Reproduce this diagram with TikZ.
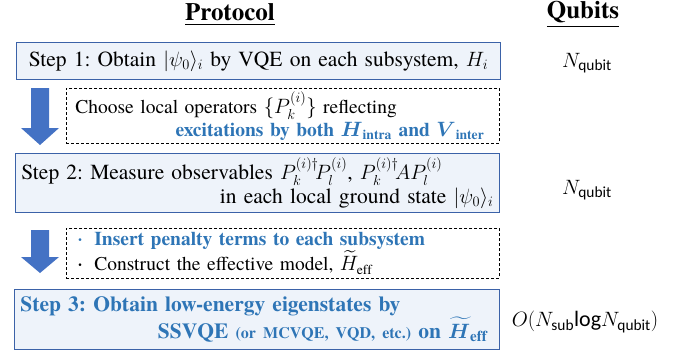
\documentclass[tikz,border=0pt]{standalone}
\usepackage{amsmath}
\usepackage{fontspec}
\setmainfont{TeX Gyre Termes}
\setsansfont{Carlito}
\usetikzlibrary{positioning}
\definecolor{stepfill}{HTML}{EEF3FA}
\definecolor{stepline}{HTML}{3B62A8}
\definecolor{arrowblue}{HTML}{4472C4}
\definecolor{hiblue}{HTML}{2E75B6}
\newcommand{\bodysize}{\frenchspacing\fontsize{21.5}{24}\selectfont}
\newcommand{\notesize}{\frenchspacing\fontsize{19.5}{23}\selectfont}
\newcommand{\dotitem}{\makebox[19pt][l]{\hspace{3pt}\raisebox{0.12em}{\fontsize{10}{10}\selectfont\textbullet}}}
\tikzset{
  stepbox/.style ={draw=stepline,line width=0.9pt,fill=stepfill,anchor=north west,
                   inner xsep=6pt,inner ysep=0pt,align=left,font=\bodysize},
  notebox/.style ={draw=black,dashed,dash pattern=on 3pt off 2pt,line width=0.7pt,
                   anchor=north west,inner xsep=9pt,inner ysep=0pt,align=left,font=\notesize},
  head/.style    ={font=\fontsize{25}{30}\selectfont\bfseries},
  qubits/.style  ={font=\fontsize{22}{24}\selectfont},
  blockarrow/.style={fill=arrowblue,draw=none}
}

\begin{document}
\begin{tikzpicture}[x=1pt,y=-1pt]
  \useasboundingbox (0,0) rectangle (697,354);
  % column headings
  \node[head] (hproto) at (230,15) {\underline{Protocol}};
  \node[head] (hqubit) at (583,15) {\underline{Qubits}};
  % protocol steps
  \node[stepbox,text width=472pt,minimum height=37pt,align=center] (step1) at (16,42)
    {Step 1: Obtain $|\psi_0\rangle_i$ by VQE on each subsystem, $H_i$};
  \node[notebox,text width=415pt,minimum height=55pt] (note1) at (66,88)
    {Choose local operators $\{P_k^{(i)}\}$ reflecting\\
     \hfill\color{hiblue}\bfseries excitations by both $\boldsymbol{H}_{\mathbf{intra}}$
     and $\boldsymbol{V}_{\mathbf{inter}}$\hspace*{6pt}};
  \node[stepbox,text width=472pt,minimum height=59pt] (step2) at (15,153)
    {Step 2: Measure observables $P_k^{(i)\dagger}\!P_l^{(i)}$,
     $P_k^{(i)\dagger}\!AP_l^{(i)}$\\
     \hfill in each local ground state $|\psi_0\rangle_i$\hspace*{-4pt}};
  \node[notebox,text width=415pt,minimum height=50pt] (note2) at (66,228)
    {{\color{hiblue}\bfseries\dotitem Insert penalty terms to each subsystem}\\
     \dotitem Construct the effective model, $\widetilde{H}_{\mathrm{eff}}$};
  \node[stepbox,text width=473pt,minimum height=60pt,text=hiblue,
        font=\bodysize\bfseries] (step3) at (14,289)
    {Step 3: Obtain low-energy eigenstates by\\
     \hfill SSVQE {\fontsize{16}{18}\selectfont (or MCVQE, VQD, etc.)} on
     $\boldsymbol{\widetilde{H}}_{\mathbf{eff}}$\hspace*{6pt}};
  % arrows between steps
  \foreach \top/\neck/\tip in {88/128/145, 230/257/273}
    \fill[blockarrow] (31,\top) -- (49,\top) -- (49,\neck) -- (59,\neck)
      -- (40,\tip) -- (21,\neck) -- (31,\neck) -- cycle;
  % qubit counts
  \node[qubits] (q1) at (587,63)  {$N_{\mathsf{qubit}}$};
  \node[qubits] (q2) at (587,190) {$N_{\mathsf{qubit}}$};
  \node[qubits] (q3) at (585,322)
    {$O(N_{\mathsf{sub}}\mathsf{log}N_{\mathsf{qubit}})$};
\end{tikzpicture}
\end{document}
